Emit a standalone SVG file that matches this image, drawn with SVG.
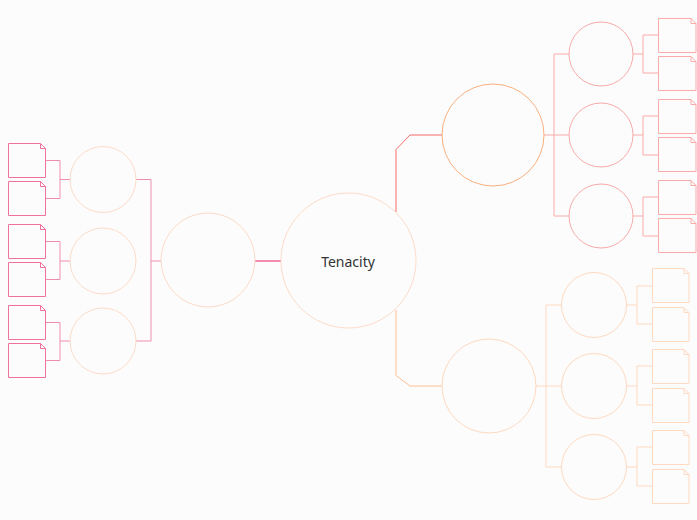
<svg xmlns="http://www.w3.org/2000/svg" width="697" height="520" viewBox="0 0 697 520">
<defs>
<style>
.bg{fill:#fcfcfc}
circle{fill:#fcfcfc;stroke-width:1}
.ln{fill:none;stroke-width:1}
.box{fill:#fcfcfc;stroke-width:1}
.t{font-family:"Noto Sans",sans-serif;font-size:14px;fill:#333}
</style>
</defs>
<rect class="bg" width="697" height="520"/>
<g id="connectors">
<path class="ln" d="M255 261H281" stroke="#ec1c5f" stroke-width="2"/>
<path class="ln" d="M136 179.5H151V341H136M151 261H161" stroke="#ef8db0"/>
<path class="ln" d="M70 179.5H60M60 160.5H45M60 160.5V198.5H45" stroke="#ef8db0"/>
<path class="ln" d="M70 261H60M60 241.5H45M60 241.5V279.5H45" stroke="#ef8db0"/>
<path class="ln" d="M70 341H60M60 322.5H45M60 322.5V360.5H45" stroke="#ef8db0"/>
<path class="ln" d="M396 212V149.5L410 135H442" stroke="#f76b6b" stroke-width="1.5"/>
<path class="ln" d="M544 135H554M569 54H554V216H569M554 135H569" stroke="#f9aaaa"/>
<path class="ln" d="M633 54H643M643 35H658M643 35V73H658" stroke="#f9aaaa"/>
<path class="ln" d="M633 135H643M643 116H658M643 116V155H658" stroke="#f9aaaa"/>
<path class="ln" d="M633 216H643M643 197H658M643 197V236H658" stroke="#f9aaaa"/>
<path class="ln" d="M396 310V375.5L410 386H442" stroke="#ffbe94" stroke-width="1.5"/>
<path class="ln" d="M536 386H546M561 305H546V467H561M546 386H561" stroke="#ffd9c0"/>
<path class="ln" d="M627 305H637M637 286H652M637 286V324H652" stroke="#ffd9c0"/>
<path class="ln" d="M627 386H637M637 366H652M637 366V405H652" stroke="#ffd9c0"/>
<path class="ln" d="M627 467H637M637 447H652M637 447V486H652" stroke="#ffd9c0"/>
</g>
<g id="center"><circle cx="348.5" cy="260.5" r="67.5" stroke="#fddcc8"/><text class="t" x="348" y="267" text-anchor="middle">Tenacity</text></g>
<g id="left-main"><circle cx="208" cy="260" r="47" stroke="#fddcc8"/></g>
<g id="left-sub1"><circle cx="103" cy="179.5" r="33" stroke="#fddcc8"/></g>
<g id="left-sub2"><circle cx="103" cy="261" r="33" stroke="#fddcc8"/></g>
<g id="left-sub3"><circle cx="103" cy="341" r="33" stroke="#fddcc8"/></g>
<g id="tr-main"><circle cx="493" cy="135" r="51" stroke="#f9b07e"/></g>
<g id="tr-sub1"><circle cx="601" cy="54" r="32" stroke="#f9aaaa"/></g>
<g id="tr-sub2"><circle cx="601" cy="135" r="32" stroke="#f9aaaa"/></g>
<g id="tr-sub3"><circle cx="601" cy="216" r="32" stroke="#f9aaaa"/></g>
<g id="br-main"><circle cx="489" cy="386" r="47" stroke="#ffd9c0"/></g>
<g id="br-sub1"><circle cx="594" cy="305" r="32.5" stroke="#ffd9c0"/></g>
<g id="br-sub2"><circle cx="594" cy="386" r="32.5" stroke="#ffd9c0"/></g>
<g id="br-sub3"><circle cx="594" cy="467" r="32.5" stroke="#ffd9c0"/></g>
<g id="left-boxes" stroke="#f0709e">
<g id="lb1"><path class="box" d="M8.5 143.5H40.5L45.5 148.5V177.5H8.5Z"/><path d="M40.5 143.5V148.5H45.5" fill="none"/></g>
<g id="lb2"><path class="box" d="M8.5 181.5H40.5L45.5 186.5V215.5H8.5Z"/><path d="M40.5 181.5V186.5H45.5" fill="none"/></g>
<g id="lb3"><path class="box" d="M8.5 224.5H40.5L45.5 229.5V258.5H8.5Z"/><path d="M40.5 224.5V229.5H45.5" fill="none"/></g>
<g id="lb4"><path class="box" d="M8.5 262.5H40.5L45.5 267.5V296.5H8.5Z"/><path d="M40.5 262.5V267.5H45.5" fill="none"/></g>
<g id="lb5"><path class="box" d="M8.5 305.5H40.5L45.5 310.5V339.5H8.5Z"/><path d="M40.5 305.5V310.5H45.5" fill="none"/></g>
<g id="lb6"><path class="box" d="M8.5 343.5H40.5L45.5 348.5V377.5H8.5Z"/><path d="M40.5 343.5V348.5H45.5" fill="none"/></g>
</g>
<g id="tr-boxes" stroke="#f9aaaa">
<g id="tb1"><path class="box" d="M658.5 18.5H691L696 23.5V52.5H658.5Z"/><path d="M691 18.5V23.5H696" fill="none"/></g>
<g id="tb2"><path class="box" d="M658.5 56.5H691L696 61.5V90.5H658.5Z"/><path d="M691 56.5V61.5H696" fill="none"/></g>
<g id="tb3"><path class="box" d="M658.5 99.5H691L696 104.5V133.5H658.5Z"/><path d="M691 99.5V104.5H696" fill="none"/></g>
<g id="tb4"><path class="box" d="M658.5 137.5H691L696 142.5V171.5H658.5Z"/><path d="M691 137.5V142.5H696" fill="none"/></g>
<g id="tb5"><path class="box" d="M658.5 180.5H691L696 185.5V214.5H658.5Z"/><path d="M691 180.5V185.5H696" fill="none"/></g>
<g id="tb6"><path class="box" d="M658.5 218.5H691L696 223.5V252.5H658.5Z"/><path d="M691 218.5V223.5H696" fill="none"/></g>
</g>
<g id="br-boxes" stroke="#ffd9c0">
<g id="bb1"><path class="box" d="M652.5 268.5H684L689 273.5V302.5H652.5Z"/><path d="M684 268.5V273.5H689" fill="none"/></g>
<g id="bb2"><path class="box" d="M652.5 307.5H684L689 312.5V341.5H652.5Z"/><path d="M684 307.5V312.5H689" fill="none"/></g>
<g id="bb3"><path class="box" d="M652.5 349.5H684L689 354.5V383.5H652.5Z"/><path d="M684 349.5V354.5H689" fill="none"/></g>
<g id="bb4"><path class="box" d="M652.5 388.5H684L689 393.5V422.5H652.5Z"/><path d="M684 388.5V393.5H689" fill="none"/></g>
<g id="bb5"><path class="box" d="M652.5 430.5H684L689 435.5V464.5H652.5Z"/><path d="M684 430.5V435.5H689" fill="none"/></g>
<g id="bb6"><path class="box" d="M652.5 469.5H684L689 474.5V503.5H652.5Z"/><path d="M684 469.5V474.5H689" fill="none"/></g>
</g>
</svg>
